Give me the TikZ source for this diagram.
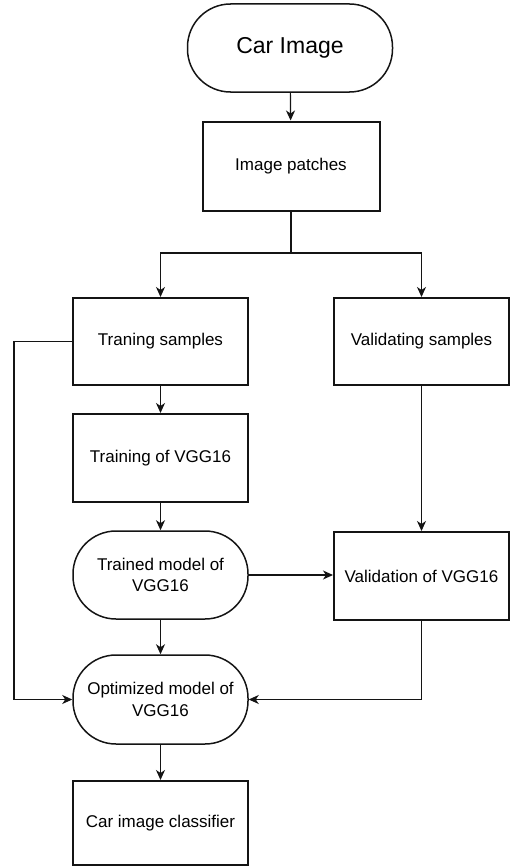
\documentclass[tikz,border=0pt]{standalone}
\usepackage{fontspec}
\setmainfont{Liberation Sans}
\usepackage{tikz}
\usetikzlibrary{arrows.meta, positioning, calc}
\usepackage{xcolor}
\definecolor{edge}{RGB}{20,20,20}

\begin{document}
\begin{tikzpicture}[x=1pt, y=-1pt,
  every node/.style={font=\fontsize{17}{21.5}\selectfont, align=center, inner sep=0pt},
  box/.style={draw=edge, line width=2pt, minimum width=175pt, minimum height=88pt},
  term/.style={draw=edge, line width=1.5pt, rounded corners=43pt, minimum width=175pt, minimum height=88pt},
  arr/.style={draw=edge, line width=1.2pt, -{Stealth[length=10pt, width=9pt, inset=3pt]}},
  ln/.style={draw=edge, line width=1.2pt}]
  \useasboundingbox (0,0) rectangle (510,867);

  % input
  \node[term, minimum width=205pt, font=\fontsize{23}{27}\selectfont] (car) at (290,48) {Car Image};
  \node[box, minimum width=177pt, minimum height=89pt] (patches) at (291,166) {Image patches};
  \coordinate (split) at (291,253);

  % two branches
  \node[box, minimum height=87pt] (trainS) at (160.5,341.5) {Traning samples};
  \node[box, minimum height=87pt] (validS) at (421.5,341.5) {Validating samples};

  % training side
  \node[box] (trainV) at (160.5,458) {Training of VGG16};
  \node[term] (trained) at (160.5,575) {Trained model of\\VGG16};
  \node[term, minimum height=89pt] (optimized) at (160.5,699.5) {Optimized model of\\VGG16};
  \node[box, minimum height=84pt] (classifier) at (160.5,823) {Car image classifier};

  % validation side
  \node[box] (validation) at (421.5,576) {Validation of VGG16};

  % connectors
  \draw[arr] (car) -- (patches);
  \draw[ln] (patches) -- (split);
  \draw[arr] (split) -| (trainS);
  \draw[arr] (split) -| (validS);
  \draw[arr] (trainS) -- (trainV);
  \draw[arr] (trainV) -- (trained);
  \draw[arr] (trained.east) -- (trained.east -| validation.west);
  \draw[arr] (validS) -- (validation);
  \draw[arr] (trained) -- (optimized);
  \draw[arr] (trainS.west) -- ++(-58,0) |- (optimized.west);
  \draw[arr] (validation.south) |- (optimized.east);
  \draw[arr] (optimized) -- (classifier);
\end{tikzpicture}
\end{document}
